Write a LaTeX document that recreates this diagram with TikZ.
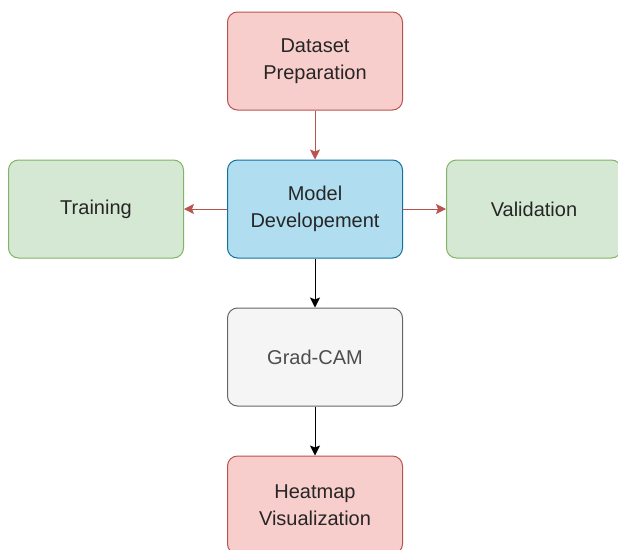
\documentclass[tikz,border=0pt]{standalone}
\usepackage{fontspec}
\setmainfont{Liberation Sans}
\usepackage{xcolor}
\usetikzlibrary{positioning,arrows.meta}

\definecolor{redfill}{HTML}{F8CECC}
\definecolor{redline}{HTML}{B85450}
\definecolor{greenfill}{HTML}{D5E8D4}
\definecolor{greenline}{HTML}{82B366}
\definecolor{bluefill}{HTML}{B1DDF0}
\definecolor{blueline}{HTML}{10739E}
\definecolor{grayfill}{HTML}{F5F5F5}
\definecolor{grayline}{HTML}{666666}
\definecolor{graytext}{HTML}{4D4D4D}

\begin{document}
\begin{tikzpicture}[x=1pt,y=1pt,
    box/.style={draw, rounded corners=10pt, minimum width=175pt, minimum height=98pt,
        align=center, line width=1pt, text=black!85,
        font=\fontsize{20}{27}\selectfont},
    redbox/.style={box, fill=redfill, draw=redline},
    greenbox/.style={box, fill=greenfill, draw=greenline},
    bluebox/.style={box, fill=bluefill, draw=blueline},
    graybox/.style={box, fill=grayfill, draw=grayline, text=graytext},
    redarrow/.style={-{Stealth[length=10pt,width=10pt,inset=2pt]}, line width=1pt, draw=redline, fill=redline},
    blackarrow/.style={-{Stealth[length=10pt,width=10pt,inset=2pt]}, line width=1pt}]
    \useasboundingbox (0,0) rectangle (618,-549);

    % middle column
    \node[redbox] (dataset) at (315,-61) {Dataset\\Preparation};
    \node[bluebox, below=49pt of dataset] (model) {Model\\Developement};
    \node[graybox, below=49pt of model] (gradcam) {Grad-CAM};
    \node[redbox, below=49pt of gradcam] (heatmap) {Heatmap\\Visualization};

    % side boxes
    \node[greenbox, left=43pt of model] (training) {Training};
    \node[greenbox, right=43pt of model] (validation) {Validation};

    % arrows
    \draw[redarrow] (dataset) -- (model);
    \draw[redarrow] (model) -- (training);
    \draw[redarrow] (model) -- (validation);
    \draw[blackarrow] (model) -- (gradcam);
    \draw[blackarrow] (gradcam) -- (heatmap);
\end{tikzpicture}
\end{document}
